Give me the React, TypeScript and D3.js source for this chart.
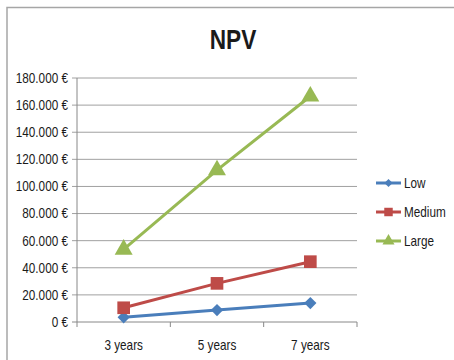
import React from "react";
import * as d3 from "d3";

const categories = ["3 years", "5 years", "7 years"];
const lowValues = [3500, 8800, 14000];
const mediumValues = [10500, 28500, 44500];
const largeValues = [53500, 112000, 166500];
const yTicks = [0, 20000, 40000, 60000, 80000, 100000, 120000, 140000, 160000, 180000];

const seriesNames = ["Low", "Medium", "Large"];
const seriesColors = ["#4a7ebb", "#be4b48", "#98b954"];
const seriesShapes = [d3.symbolSquare, d3.symbolSquare, d3.symbolTriangle];
const seriesRotate = [45, 0, 0];

const FONT = "'Liberation Sans', Arial, sans-serif";
const SX = 0.84;

function T({ x, y, anchor = "start", size = 14, weight = "normal", children }: any) {
  return (
    <g transform={`translate(${x},${y}) scale(${SX},1)`}>
      <text textAnchor={anchor} dy="0.35em" fontSize={size} fontWeight={weight} fill="#1a1a1a">{children}</text>
    </g>
  );
}

export default function App() {
  const W = 454, H = 360;
  const left = 77, right = 357, top = 78, bottom = 322;
  const x = d3.scaleBand().domain(categories).range([left, right]);
  const y = d3.scaleLinear().domain([0, 180000]).range([bottom, top]);
  const fmt = (v: number) => (v === 0 ? "0" : d3.format(",")(v).replace(/,/g, ".")) + "\u00a0€";
  const allSeries = [lowValues, mediumValues, largeValues];
  const line = d3.line<number>().x((_, i) => x(categories[i])! + x.bandwidth() / 2).y((d) => y(d));
  const sizes = [75, 160, 140];

  return (
    <svg width={W} height={H} style={{ position: "absolute", left: 0, top: 0, background: "#fff" }} fontFamily={FONT} fontWeight="normal">
      <rect x={0} y={0} width={W} height={H} fill="#fff" />
      <path d={`M7,${H} L7,7.5 L${W},7.5`} fill="none" stroke="#a6a6a6" strokeWidth={1.5} />
      <T x={233} y={40} anchor="middle" size={27} weight="bold">NPV</T>
      {yTicks.map((t) => (
        <g key={t}>
          <line x1={left - 5} x2={right} y1={y(t)} y2={y(t)} stroke={t === 0 ? "#888" : "#a0a0a0"} strokeWidth={1} />
          <T x={left - 9} y={y(t)} anchor="end" size={14}>{fmt(t)}</T>
        </g>
      ))}
      <line x1={left} x2={left} y1={top} y2={bottom} stroke="#888" />
      {[...categories.map((c) => x(c)!), right].map((px, i) => (
        <line key={i} x1={px} x2={px} y1={bottom} y2={bottom + 5} stroke="#888" />
      ))}
      {categories.map((c) => (
        <T key={c} x={x(c)! + x.bandwidth() / 2} y={bottom + 23} anchor="middle" size={14}>{c}</T>
      ))}
      {allSeries.map((vals, si) => (
        <g key={si}>
          <path d={line(vals)!} fill="none" stroke={seriesColors[si]} strokeWidth={3} />
          {vals.map((v, i) => (
            <path
              key={i}
              d={d3.symbol(seriesShapes[si], sizes[si])()!}
              transform={`translate(${x(categories[i])! + x.bandwidth() / 2},${y(v)}) rotate(${seriesRotate[si]})`}
              fill={seriesColors[si]}
            />
          ))}
        </g>
      ))}
      {seriesNames.map((n, si) => {
        const ly = 183 + si * 29;
        return (
          <g key={n}>
            <line x1={376} x2={401} y1={ly} y2={ly} stroke={seriesColors[si]} strokeWidth={3} />
            <path d={d3.symbol(seriesShapes[si], sizes[si] * 0.45)()!} transform={`translate(388.5,${ly}) rotate(${seriesRotate[si]})`} fill={seriesColors[si]} />
            <T x={404} y={ly} size={14}>{n}</T>
          </g>
        );
      })}
    </svg>
  );
}
